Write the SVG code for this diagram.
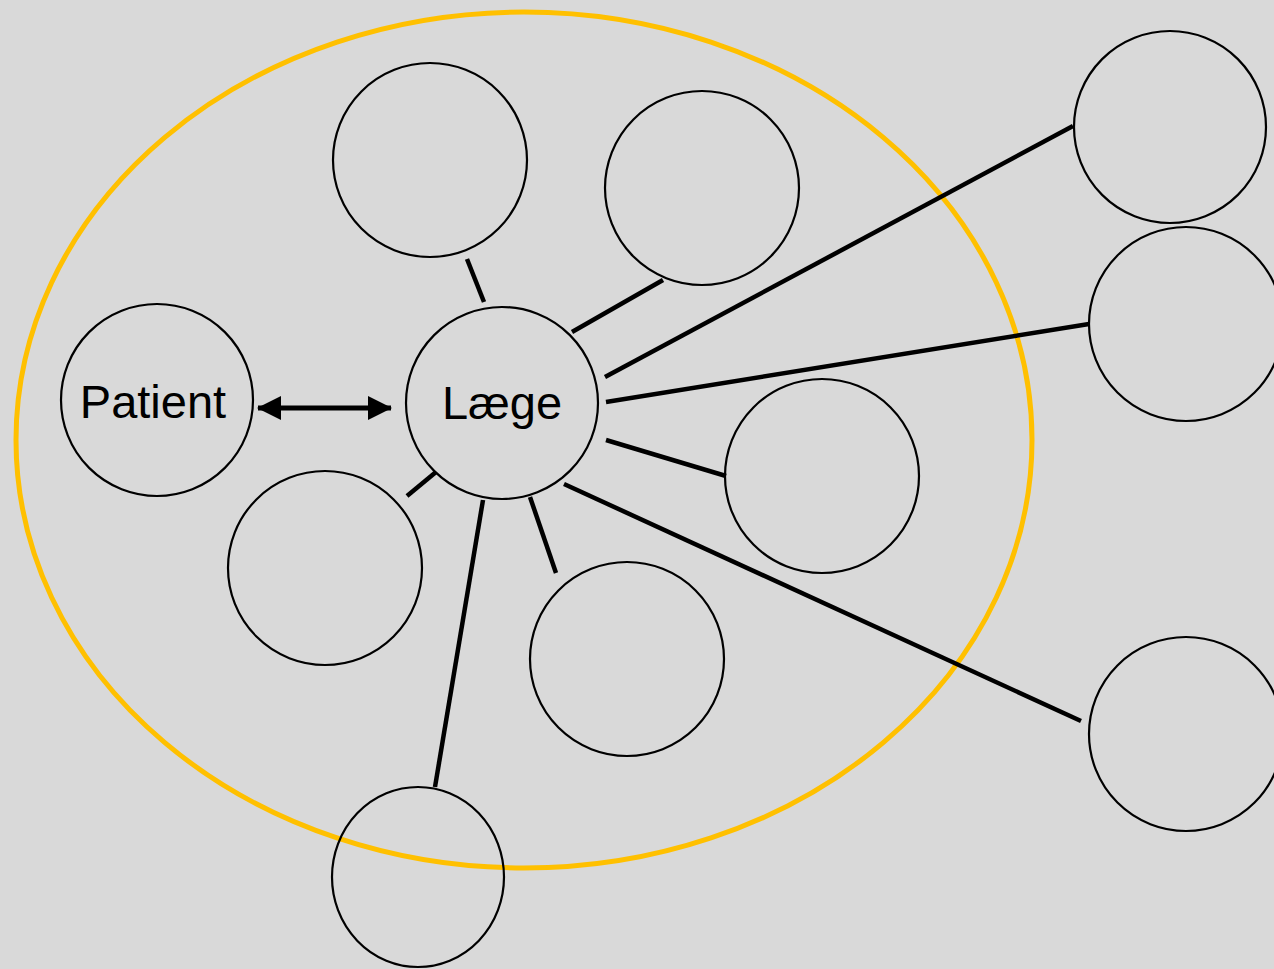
<svg xmlns="http://www.w3.org/2000/svg" width="1274" height="969" viewBox="0 0 1274 969">
<style>
.n{fill:none;stroke:#000;stroke-width:2.2}
.c{stroke:#000;stroke-width:4.5;fill:none}
.t{font-family:"Liberation Sans",Arial,sans-serif;font-size:47px;fill:#000;text-anchor:middle}
</style>
<defs>
<marker id="ah" viewBox="0 0 24 24" refX="23" refY="12" markerWidth="24" markerHeight="24" markerUnits="userSpaceOnUse" orient="auto-start-reverse">
<path d="M0,0 L24,12 L0,24 Z" fill="#000"/>
</marker>
</defs>
<rect width="1274" height="969" fill="#d9d9d9"/>
<ellipse id="boundary" cx="524" cy="440" rx="508" ry="428" fill="none" stroke="#ffc000" stroke-width="5"/>
<g id="connectors">
<line class="c" x1="467" y1="259" x2="484" y2="302"/>
<line class="c" x1="572" y1="332" x2="663" y2="280"/>
<line class="c" x1="605" y1="377" x2="1073" y2="126"/>
<line class="c" x1="606" y1="402" x2="1089" y2="324"/>
<line class="c" x1="606" y1="440" x2="726" y2="476"/>
<line class="c" x1="564" y1="484" x2="1081" y2="721"/>
<line class="c" x1="530" y1="497" x2="556" y2="573"/>
<line class="c" x1="483" y1="500" x2="435" y2="787"/>
<line class="c" x1="407" y1="496" x2="436" y2="472"/>
<line x1="258" y1="408" x2="391" y2="408" stroke="#000" stroke-width="5" marker-start="url(#ah)" marker-end="url(#ah)"/>
</g>
<g id="n-top1"><circle class="n" cx="430" cy="160" r="97"/></g>
<g id="n-top2"><circle class="n" cx="702" cy="188" r="97"/></g>
<g id="n-patient"><circle class="n" cx="157" cy="400" r="96"/><text class="t" x="153" y="418">Patient</text></g>
<g id="n-laege"><circle class="n" cx="502" cy="403" r="96"/><text class="t" x="502" y="419">Læge</text></g>
<g id="n-lowleft"><circle class="n" cx="325" cy="568" r="97"/></g>
<g id="n-botmid"><circle class="n" cx="627" cy="659" r="97"/></g>
<g id="n-rightmid"><circle class="n" cx="822" cy="476" r="97"/></g>
<g id="n-bottom"><ellipse class="n" cx="418" cy="877" rx="86" ry="90"/></g>
<g id="n-far1"><circle class="n" cx="1170" cy="127" r="96"/></g>
<g id="n-far2"><circle class="n" cx="1186" cy="324" r="97"/></g>
<g id="n-far3"><circle class="n" cx="1186" cy="734" r="97"/></g>
</svg>
